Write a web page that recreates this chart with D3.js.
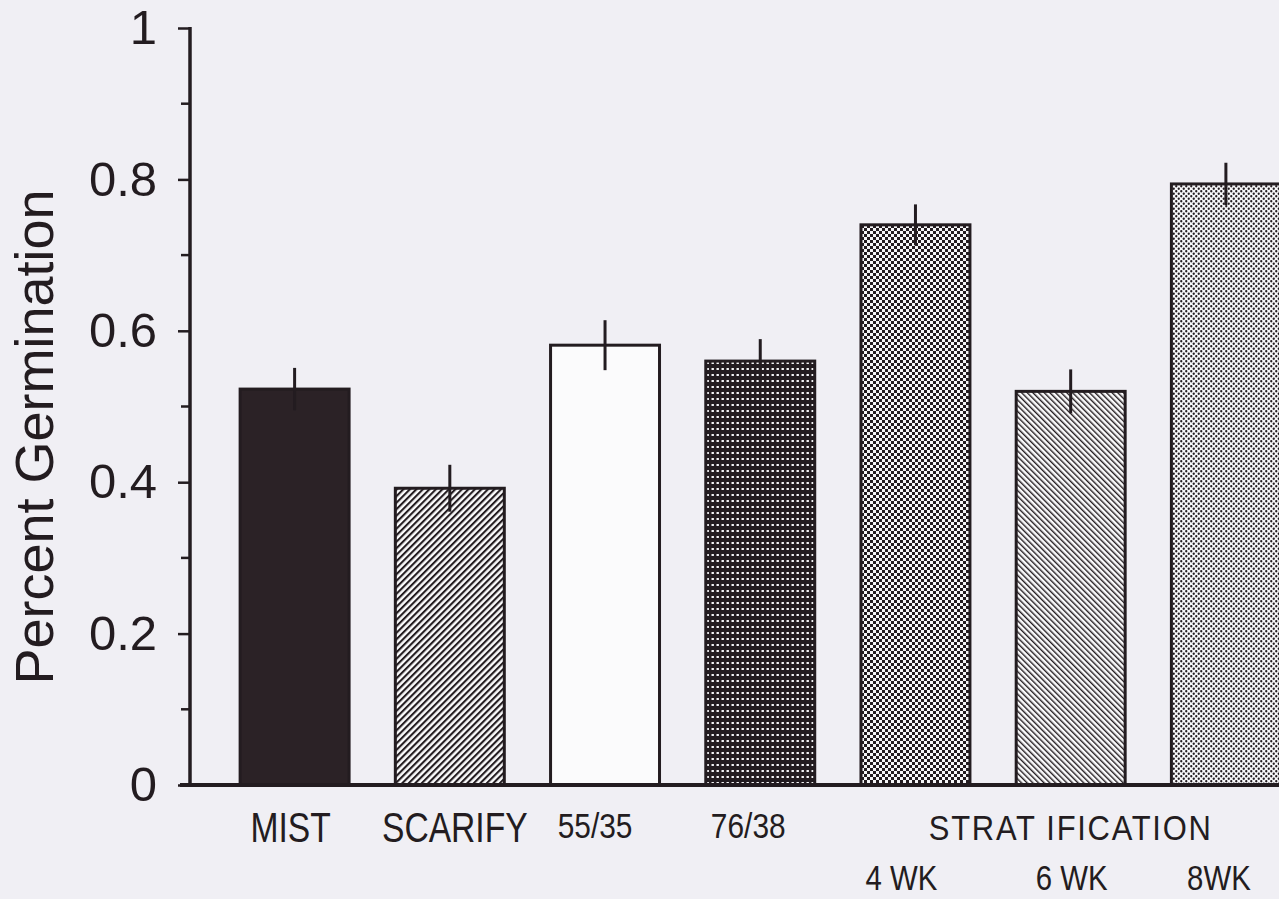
<!DOCTYPE html>
<html>
<head>
<meta charset="utf-8">
<script src="https://cdn.jsdelivr.net/npm/d3@7"></script>
<style>
  html, body { margin: 0; padding: 0; background: #f0eff4; }
  svg { display: block; }
  text { font-family: "Liberation Sans", Arial, sans-serif; fill: #231c20; }
</style>
</head>
<body>
<script>
const width = 1279;
const height = 899;

// Data.
const categories = ['MIST', 'SCARIFY', '55/35', '76/38', '4WK', '6WK', '8WK'];
const germination = [0.523, 0.392, 0.581, 0.560, 0.740, 0.520, 0.794];
const errors = [0.028, 0.031, 0.033, 0.029, 0.027, 0.029, 0.028];
const topLabels = ['MIST', 'SCARIFY', '55/35', '76/38', '', '', ''];
const bottomLabels = ['', '', '', '', '4 WK', '6 WK', '8WK'];
const groupLabel = 'STRAT IFICATION';
const yTicks = [0, 0.2, 0.4, 0.6, 0.8, 1];
const yMinorTicks = [0.1, 0.3, 0.5, 0.7, 0.9];

const ink = '#231c20';

// layout tweaks for the hand placed labels
const labelNudge = { MIST: -4, SCARIFY: 5, '55/35': -10, '76/38': -12, '4WK': -14, '6WK': 1, '8WK': -7 };
const labelSize = { MIST: 42, SCARIFY: 42, '55/35': 36, '76/38': 36 };

let svg = d3
  .select('body')
  .append('svg')
  .attr('width', width)
  .attr('height', height);

svg.append('rect').attr('width', width).attr('height', height).attr('fill', '#f0eff4');

// Fill patterns for the bars.
let defs = svg.append('defs');

function hatch(id, size, lineW, angle) {
  let p = defs
    .append('pattern')
    .attr('id', id)
    .attr('patternUnits', 'userSpaceOnUse')
    .attr('width', size)
    .attr('height', size)
    .attr('patternTransform', `rotate(${angle})`);
  p.append('rect').attr('width', size).attr('height', size).attr('fill', '#fbfbfc');
  p.append('rect').attr('width', lineW).attr('height', size).attr('fill', ink);
}
hatch('fwd', 4.6, 2.1, 45);
hatch('back', 4, 1.4, -45);

let grid = defs
  .append('pattern')
  .attr('id', 'grid')
  .attr('patternUnits', 'userSpaceOnUse')
  .attr('width', 5)
  .attr('height', 6);
grid.append('rect').attr('width', 5).attr('height', 6).attr('fill', ink);
grid.append('rect').attr('x', 1.5).attr('y', 2).attr('width', 2.4).attr('height', 2).attr('fill', '#f4f4f6');

let checker = defs
  .append('pattern')
  .attr('id', 'checker')
  .attr('patternUnits', 'userSpaceOnUse')
  .attr('width', 6)
  .attr('height', 6);
checker.append('rect').attr('width', 6).attr('height', 6).attr('fill', '#f6f6f8');
checker.append('rect').attr('width', 3).attr('height', 3).attr('fill', ink);
checker.append('rect').attr('x', 3).attr('y', 3).attr('width', 3).attr('height', 3).attr('fill', ink);

let dots = defs
  .append('pattern')
  .attr('id', 'dots')
  .attr('patternUnits', 'userSpaceOnUse')
  .attr('width', 5)
  .attr('height', 5);
dots.append('rect').attr('width', 5).attr('height', 5).attr('fill', '#f8f8fa');
dots.append('circle').attr('cx', 1.25).attr('cy', 1.25).attr('r', 1.15).attr('fill', ink);
dots.append('circle').attr('cx', 3.75).attr('cy', 3.75).attr('r', 1.15).attr('fill', ink);

const fills = ['#2b2226', 'url(#fwd)', '#fbfbfc', 'url(#grid)', 'url(#checker)', 'url(#back)', 'url(#dots)'];

let xScale = d3
  .scaleBand()
  .domain(categories)
  .range([217, 1303.5])
  .paddingInner(0.298)
  .paddingOuter(0.149);

let yScale = d3.scaleLinear().domain([0, 1]).range([785, 28]);

let data = categories.map((c, i) => ({
  key: c,
  value: germination[i],
  err: errors[i],
  fill: fills[i],
  top: topLabels[i],
  bottom: bottomLabels[i]
}));

// Bars.
svg
  .selectAll('rect.bar')
  .data(data)
  .join('rect')
  .attr('class', 'bar')
  .attr('x', (d) => xScale(d.key))
  .attr('y', (d) => yScale(d.value))
  .attr('width', xScale.bandwidth())
  .attr('height', (d) => yScale(0) - yScale(d.value))
  .attr('fill', (d) => d.fill)
  .attr('stroke', ink)
  .attr('stroke-width', 3);

// Error bars (plain vertical lines, no caps).
svg
  .selectAll('line.err')
  .data(data)
  .join('line')
  .attr('class', 'err')
  .attr('x1', (d) => xScale(d.key) + xScale.bandwidth() / 2)
  .attr('x2', (d) => xScale(d.key) + xScale.bandwidth() / 2)
  .attr('y1', (d) => yScale(d.value - d.err))
  .attr('y2', (d) => yScale(d.value + d.err))
  .attr('stroke', ink)
  .attr('stroke-width', 3);

// Left axis.
let leftContainer = svg.append('g').attr('transform', 'translate(190, 0)');
let leftAxis = d3
  .axisLeft(yScale)
  .tickValues(yTicks)
  .tickFormat((d) => (d === 0 || d === 1 ? d3.format('d')(d) : d3.format('.1f')(d)))
  .tickSize(12)
  .tickPadding(21);
leftContainer.call(leftAxis);
leftContainer.select('.domain').remove();
leftContainer.selectAll('.tick line').attr('stroke', ink).attr('stroke-width', 2.5);
leftContainer
  .selectAll('.tick text')
  .attr('font-size', 49)
  .attr('font-family', '"Liberation Sans", Arial, sans-serif')
  .attr('fill', ink);

leftContainer
  .selectAll('line.minor')
  .data(yMinorTicks)
  .join('line')
  .attr('class', 'minor')
  .attr('x1', -9)
  .attr('x2', 0)
  .attr('y1', (d) => yScale(d))
  .attr('y2', (d) => yScale(d))
  .attr('stroke', ink)
  .attr('stroke-width', 2.5);

leftContainer
  .append('line')
  .attr('y1', yScale(1) - 1)
  .attr('y2', yScale(0) + 2)
  .attr('stroke', ink)
  .attr('stroke-width', 3.5);

// Baseline.
svg
  .append('line')
  .attr('x1', 180)
  .attr('x2', width)
  .attr('y1', yScale(0))
  .attr('y2', yScale(0))
  .attr('stroke', ink)
  .attr('stroke-width', 4);

// Y title.
svg
  .append('text')
  .attr('transform', `translate(53, ${437}) rotate(-90)`)
  .attr('text-anchor', 'middle')
  .attr('font-size', 54)
  .text('Percent Germination');

// Category labels, set in a condensed face.
function condensed(sel, cx, baseline, size, squeeze) {
  sel
    .attr('transform', `translate(${cx}, ${baseline}) scale(${squeeze}, 1)`)
    .attr('text-anchor', 'middle')
    .attr('font-size', size);
}

let labels = svg.append('g');
data.forEach((d) => {
  let cx = xScale(d.key) + xScale.bandwidth() / 2 + labelNudge[d.key];
  if (d.top) {
    let size = labelSize[d.key];
    labels
      .append('text')
      .text(d.top)
      .call(condensed, cx, size > 40 ? 842 : 838, size, size > 40 ? 0.8 : 0.83);
  }
  if (d.bottom) {
    labels.append('text').text(d.bottom).call(condensed, cx, 890, 35, 0.84);
  }
});

labels
  .append('text')
  .text(groupLabel)
  .attr('letter-spacing', 2)
  .call(condensed, xScale('6WK') + xScale.bandwidth() / 2, 840, 36, 0.86);
</script>
</body>
</html>
